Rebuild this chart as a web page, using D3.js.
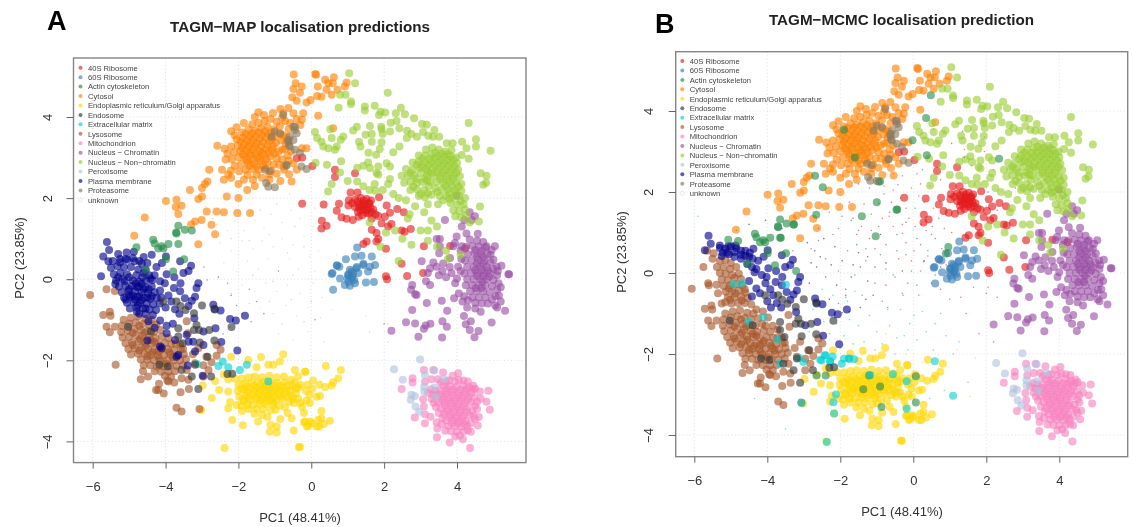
<!DOCTYPE html>
<html>
<head>
<meta charset="utf-8">
<script src="https://cdn.jsdelivr.net/npm/d3@7"></script>
<style>
  html, body { margin: 0; padding: 0; background: #fff; }
  svg { display: block; filter: blur(0.35px); font-family: "Liberation Sans", Arial, sans-serif; }
</style>
</head>
<body>
<div id="chart"></div>
<script>
// PCA positions, [PC1, PC2]
const legendNames = ["40S Ribosome", "60S Ribosome", "Actin cytoskeleton", "Cytosol", "Endoplasmic reticulum/Golgi apparatus", "Endosome", "Extracellular matrix", "Lysosome", "Mitochondrion", "Nucleus \u2212 Chromatin", "Nucleus \u2212 Non\u2212chromatin", "Peroxisome", "Plasma membrane", "Proteasome", "unknown"];
const legendColors = ["#E41A1C", "#377EB8", "#238B45", "#FF7F00", "#FFD700", "#333333", "#00CED1", "#A65628", "#F781BF", "#984EA3", "#9ACD32", "#B0C4DE", "#00008A", "#8B795E", "#E0E0E0"];
const xTicks = [-6, -4, -2, 0, 2, 4];
const yTicks = [-4, -2, 0, 2, 4];

const red40S = [[0.65,2.7],[0.65,2.52],[1.2,2.61],[-0.25,1.86],[0.34,1.84],[0.76,1.86],[0.7,1.69],[0.29,1.44],[0.42,1.32],[0.28,1.25],[0.83,1.53],[0.97,1.49],[1.14,1.46],[1.08,2.14],[1.27,2.14],[1.03,1.95],[1.02,1.82],[1.12,1.88],[1.2,1.96],[1.28,1.92],[1.36,2.0],[1.44,1.94],[1.52,1.98],[1.6,1.88],[1.2,1.78],[1.3,1.76],[1.38,1.8],[1.46,1.84],[1.54,1.78],[1.62,1.76],[1.7,1.72],[1.28,1.66],[1.36,1.7],[1.44,1.72],[1.5,1.64],[1.58,1.62],[1.66,1.66],[1.76,1.6],[1.4,1.58],[1.3,1.54],[1.66,1.5],[1.84,1.56],[1.86,2.02],[2.07,1.82],[2.36,1.73],[2.54,1.65],[2.16,1.64],[2.02,1.54],[1.93,1.38],[1.66,1.22],[1.79,1.14],[2.11,1.3],[2.2,1.36],[2.48,1.2],[2.56,1.17],[2.73,1.24],[1.84,0.99],[1.79,0.93],[1.52,0.93],[1.43,0.87],[2.05,0.75],[3.09,0.81],[3.81,0.82],[4.22,0.76],[2.48,0.38],[3.07,0.15],[2.63,0.08],[2.05,0.07],[2.08,0.0],[0.03,2.79],[-0.25,3.0],[-0.4,2.98],[1.52,1.7],[1.42,1.88],[1.58,1.86],[1.32,1.84],[1.64,1.94]];

const blue60S = [[1.26,0.78],[0.95,0.49],[1.2,0.56],[1.38,0.58],[0.71,0.34],[0.58,0.15],[1.24,0.27],[1.61,0.31],[1.75,0.35],[1.43,0.35],[1.1,0.19],[1.01,0.11],[1.66,0.56],[0.56,0.13],[0.7,0.34],[0.77,0.31],[0.79,0.02],[0.6,-0.26],[0.92,-0.14],[1.06,-0.16],[1.2,-0.1],[1.5,-0.08],[1.72,-0.07],[1.56,0.19],[1.29,0.15],[1.15,0.15],[1.06,0.23],[1.02,0.11],[1.11,0.02],[1.25,0.3],[1.43,0.38],[1.02,-0.06],[1.13,0.07],[1.18,-0.02],[1.0,0.02]];

const actin = [[-4.8,0.79],[-4.34,0.97],[-4.2,0.76],[-4.06,0.76],[-3.92,0.87],[-3.65,0.87],[-3.71,1.15],[-3.47,1.22],[-3.28,1.2],[-3.99,0.49],[-3.79,0.19],[-3.49,0.49],[-4.54,0.23],[-3.65,1.32],[-3.7,1.13],[-4.11,0.81],[-4.3,0.88]];
const actinB = [[-1.9,3.54],[-1.6,2.85],[-2.69,2.4],[-2.48,2.12],[-0.95,2.26],[-1,1.75],[-0.46,1.56],[-1.41,1.4],[-2.66,1.44],[-3.27,1.2],[-3.63,0.87],[-1.03,0.91],[0.48,4.39],[0.35,3.83],[-0.02,3.28],[0.37,2.91],[2.35,2.82],[-0.44,1.57],[0.96,0.64],[0.89,0.48],[-0.91,2.26],[-3.21,0.05],[-5.07,0.82],[-1.37,-2.87],[-0.91,-2.8],[-1.21,-2.53],[-0.87,-3.31],[0.07,-2.55],[0.07,-3.2],[-2.65,-2.53],[-2.4,-2.53]];

const cytosol = [[-2.58,3.29],[-2.8,2.7],[-2.85,2.41],[-2.92,2.35],[-3.33,2.2],[-3.0,2.25],[-3.0,2.04],[-3.1,1.98],[-3.99,1.93],[-3.7,1.96],[-3.72,1.78],[-3.56,1.81],[-3.65,1.61],[-4.57,1.52],[-4.86,1.07],[-3.19,1.42],[-3.3,1.35],[-3.01,1.46],[-3.1,0.86],[-2.64,1.11],[-2.74,1.34],[-2.87,1.67],[-2.6,1.67],[-2.4,1.65],[-2.03,1.63],[-1.68,1.63],[-2.32,2.04],[-2.0,2.0],[-1.76,2.2],[-1.55,2.3],[-2.4,2.45],[-2.45,2.7],[-2.2,2.5],[-2.0,2.35],[-1.85,2.45],[-1.6,2.45],[-1.35,2.5],[-1.15,2.45],[-0.85,2.42],[-0.95,2.6],[-0.75,2.7],
[-0.48,5.05],[0.11,5.06],[0.13,5.04],[0.62,4.98],[-0.43,4.83],[-0.26,4.75],[-0.49,4.69],[-0.31,4.6],[-0.52,4.49],[-0.4,4.4],[-0.13,4.36],[-0.02,4.42],[0.16,4.52],[0.28,4.5],[0.18,4.75],[0.38,4.92],[0.47,4.83],[0.59,4.83],[0.42,4.67],[0.56,4.55],[0.72,4.67],[0.97,4.85],[0.92,4.75],[0.19,4.03],[0.6,3.72],[-0.63,4.22],[-0.49,4.09],[-0.22,4.09],[-0.26,3.93],[-0.77,4.09],[-0.54,2.41],[-0.61,2.59],[-0.49,2.86],[-0.75,2.78],[-0.26,3.23],[-0.13,3.23],[-0.7,3.35],[-0.8,3.2],[-0.65,3.05],[-0.4,3.95],[-0.58,3.85],[-0.72,3.9],[-0.62,3.7],[-0.78,3.55],[-0.68,3.5],[-0.3,3.8],[-0.85,4.2],[-1.05,4.1],[-1.3,4.05],[-1.45,4.12],[-1.55,4.0],[-1.85,3.85],[-2.05,3.75],[-2.2,3.65],[-0.55,3.15],[-0.4,2.7],[-0.62,2.92],
[-1.62,3.82],[-1.45,3.85],[-1.28,3.9],[-1.12,3.95],[-0.95,3.88],[-0.8,3.98],[-1.9,3.62],[-1.72,3.7],[-1.55,3.66],[-1.38,3.72],[-1.2,3.76],[-1.02,3.7],[-0.86,3.78],[-2.05,3.45],[-1.88,3.48],[-1.7,3.52],[-1.53,3.5],[-1.35,3.55],[-1.18,3.58],[-1.0,3.52],[-0.85,3.58],[-2.2,3.27],[-2.02,3.3],[-1.85,3.33],[-1.68,3.36],[-1.5,3.34],[-1.33,3.38],[-1.15,3.4],[-0.97,3.36],[-2.3,3.1],[-2.12,3.13],[-1.95,3.16],[-1.78,3.18],[-1.6,3.2],[-1.42,3.17],[-1.25,3.22],[-1.08,3.2],[-0.9,3.15],[-2.18,2.96],[-2.0,3.0],[-1.83,3.02],[-1.66,3.05],[-1.48,3.02],[-1.3,3.06],[-1.12,3.03],[-0.95,2.98],[-2.1,2.8],[-1.92,2.84],[-1.74,2.88],[-1.56,2.86],[-1.38,2.9],[-1.2,2.87],[-1.03,2.83],[-1.98,2.66],[-1.8,2.7],[-1.62,2.72],[-1.44,2.7],[-1.26,2.74],[-1.1,2.68],
[-1.8,3.58],[-1.62,3.6],[-1.44,3.62],[-1.27,3.65],[-1.1,3.62],[-1.94,3.4],[-1.76,3.42],[-1.6,3.43],[-1.42,3.45],[-1.25,3.48],[-1.08,3.45],[-1.9,3.24],[-1.72,3.27],[-1.55,3.27],[-1.38,3.28],[-1.2,3.3],[-1.04,3.28],[-1.88,3.08],[-1.7,3.12],[-1.52,3.1],[-1.35,3.12],[-1.17,3.12],[-1.0,3.1],[-1.78,2.95],[-1.6,2.95],[-1.42,2.97],[-1.25,2.96],[-1.7,2.8],[-1.5,2.78],[-1.32,2.8],[-0.82,3.42],[-0.72,3.22],[-0.8,2.95],[-0.88,2.82],[-2.35,2.95],[-2.38,3.22],[-2.2,2.68],[-2.28,2.58],[-2.1,3.55],[-1.5,2.58],[-1.75,2.57],[-1.15,2.58]];

const yellow = [[-2.2,-1.91],[-1.73,-1.99],[-1.38,-1.92],[-0.77,-1.85],[-1.18,-2.11],[-1.04,-2.11],[-0.86,-2.03],[-1.5,-2.17],[-0.45,-2.24],[-0.17,-2.28],[-0.36,-2.4],[-2.98,-2.62],[-2.73,-2.93],[-2.64,-2.51],[-2.53,-2.73],[-2.28,-2.77],[-2.23,-3.03],[-2.28,-3.18],[-2.17,-3.47],[-1.88,-3.6],[-1.56,-3.32],[-1.46,-3.51],[-1.12,-3.59],[-0.95,-3.63],[-1.14,-3.76],[-0.95,-3.78],[-0.48,-3.73],[-0.54,-3.43],[-2.38,-4.16],[-0.34,-4.14],[-3.02,-3.23],[-0.17,-3.51],[-0.03,-3.51],[-0.12,-3.63],[0.15,-3.63],[0.19,-3.47],[0.4,-2.14],[0.81,-2.24],[0.6,-2.54],[0.74,-2.44],[0.56,-2.62],[-0.16,-2.28],[0.05,-2.5],[0.22,-2.6],[0.38,-2.66],[0.24,-2.88],[0.15,-2.9],[0.03,-2.7],[-0.13,-3.0],[-0.04,-3.05],[0.28,-3.25],[0.28,-3.43],[0.51,-3.49],[0.35,-3.57],[0.22,-3.63],[0.01,-3.55],[-0.08,-3.61],[-0.2,-3.53],[-0.31,-4.14],[-0.1,-2.6],[-0.05,-2.85],[-0.15,-2.75],[-0.25,-3.15],[-0.3,-2.6],[-0.2,-3.3],[-2.1,-2.45],[-2.28,-2.47],[-2.4,-2.35],[-2.05,-3.1],[-1.9,-3.25],[-1.72,-3.2],[-0.85,-3.45],[-0.65,-3.3],[-1.35,-3.35],[-1.2,-3.4],
[-1.9,-2.45],[-1.72,-2.42],[-1.55,-2.4],[-1.35,-2.42],[-1.15,-2.38],[-0.95,-2.42],[-0.75,-2.4],[-0.55,-2.48],[-2.0,-2.6],[-1.82,-2.58],[-1.65,-2.56],[-1.47,-2.55],[-1.28,-2.52],[-1.1,-2.54],[-0.92,-2.56],[-0.72,-2.55],[-0.52,-2.62],[-0.35,-2.68],[-2.02,-2.76],[-1.85,-2.72],[-1.68,-2.7],[-1.5,-2.68],[-1.32,-2.66],[-1.14,-2.68],[-0.96,-2.7],[-0.78,-2.68],[-0.58,-2.74],[-0.42,-2.82],[-1.98,-2.9],[-1.8,-2.86],[-1.62,-2.84],[-1.44,-2.8],[-1.26,-2.8],[-1.08,-2.82],[-0.9,-2.84],[-0.72,-2.82],[-0.54,-2.88],[-0.36,-2.95],[-1.85,-3.02],[-1.68,-2.98],[-1.5,-2.95],[-1.32,-2.93],[-1.14,-2.95],[-0.96,-2.98],[-0.78,-2.96],[-0.6,-3.02],[-1.6,-3.1],[-1.42,-3.07],[-1.25,-3.08],[-1.05,-3.1],[-0.88,-3.12],[-1.5,-3.2],[-1.32,-3.2],[-1.12,-3.24],[-0.98,-3.22],
[-1.58,-2.62],[-1.38,-2.6],[-1.2,-2.6],[-1.02,-2.62],[-1.56,-2.76],[-1.4,-2.74],[-1.22,-2.73],[-1.04,-2.75],[-0.86,-2.76],[-1.52,-2.9],[-1.35,-2.87],[-1.17,-2.87],[-1.0,-2.9],[-0.82,-2.9],[-1.4,-3.0],[-1.22,-3.01],[-1.05,-3.03],[-0.66,-2.62],[-0.64,-2.9],[-0.48,-3.05],[-0.3,-3.05],[-0.72,-3.15],[-1.75,-3.1],[-1.92,-3.12],[-1.75,-2.78],[-1.72,-2.92],[-0.86,-2.63],[-0.68,-2.75],[-1.78,-2.64],[-1.92,-2.7],[-1.88,-2.96],[-0.46,-2.55],[-0.42,-2.7],[-0.5,-2.95]];

const endosome = [[-3,-0.65],[-2.66,-0.73],[-3.7,-0.55],[-3.59,-0.66],[-3.45,-0.76],[-3.22,-0.84],[-3.15,-1.13],[-3.22,-1.25],[-3.08,-1.25],[-2.8,-1.25],[-3.65,-1.21],[-2.66,-1.51],[-2.19,-1.18],[-5.03,-1.17],[-4.4,-1.29],[-3.65,-1.41],[-3.53,-1.58],[-3.06,-1.56],[-2.85,-1.91],[-4.17,-2.11],[-3.94,-2.15],[-3.56,-2.24],[-3.19,-2.11],[-3.28,-2.4],[-3.1,-2.71],[-2.75,-2.4],[-2.3,-2.34],[-2.17,-2.33],[-4.06,-0.55]];

const ecm = [[-2.43,-2.03],[-2.55,-2.14],[-2.28,-2.17],[-1.96,-2.24],[-1.77,-2.11],[-3.13,-2.1],[-1.18,-2.52]];
const ecmB = [[-4.93,-0.28],[-4.7,-0.26],[-3.49,-0.29],[-4.11,-1.09],[-4.52,-1.2],[-3.72,-1.65],[-3.65,-2.24],[-3.01,-2.2],[-2.51,-2.16],[-2.4,-2.03],[-2.21,-2.06],[-2.28,-2.2],[-1.9,-2.12],[-1.75,-2.12],[-1.62,-2.13],[-2.12,-3],[-2.19,-3.19],[-3.06,-3.21],[-2.17,-3.47],[-2.37,-4.17],[-0.18,-3.35],[-0.18,-2.67],[-0.56,-2.5],[0.59,-2.18],[1.09,-3.03]];

const lysosome = [[-6.07,-0.39],[-5.62,-0.25],[-5.39,-0.29],[-5.71,-0.88],[-5.53,-0.8],[-5.51,-0.9],[-5.62,-1.17],[-5.53,-1.31],[-5.39,-1.17],[-5.37,-2.11],[-4.68,-2.47],[-4.62,-2.27],[-4.48,-2.4],[-4.18,-2.58],[-4.26,-2.73],[-4.2,-2.73],[-4.05,-2.82],[-3.76,-2.55],[-3.59,-2.79],[-3.36,-2.71],[-3.7,-3.17],[-3.56,-3.26],[-3.07,-3.2],[-3.39,-1.33],[-3.42,-1.04],[-2.6,-1.62],[-2.49,-1.74],[-2.6,-1.89],[-2.88,-1.91],[-2.74,-2.05],[-2.96,-2.12],[-2.82,-2.24],[-2.96,-2.4],[-3.19,-2.07],[-3.42,-2.24],[-3.37,-2.48],[-3.56,-2.44],[-3.95,-2.5],[-3.92,-2.52],[-3.25,-1.85],[-3.1,-1.7],
[-5.15,-1.0],[-4.95,-0.95],[-4.75,-0.92],[-4.55,-0.98],[-4.38,-1.0],[-5.2,-1.15],[-5.0,-1.1],[-4.82,-1.07],[-4.62,-1.1],[-4.44,-1.14],[-4.25,-1.12],[-5.22,-1.3],[-5.04,-1.27],[-4.86,-1.23],[-4.68,-1.25],[-4.5,-1.28],[-4.32,-1.3],[-4.14,-1.25],[-5.18,-1.44],[-5.0,-1.42],[-4.82,-1.38],[-4.64,-1.4],[-4.46,-1.43],[-4.28,-1.45],[-4.1,-1.42],[-3.92,-1.45],[-5.1,-1.58],[-4.92,-1.56],[-4.74,-1.53],[-4.56,-1.56],[-4.38,-1.58],[-4.2,-1.6],[-4.02,-1.58],[-3.84,-1.6],[-5.02,-1.72],[-4.84,-1.7],[-4.66,-1.68],[-4.48,-1.72],[-4.3,-1.74],[-4.12,-1.74],[-3.94,-1.72],[-3.76,-1.75],[-3.58,-1.72],[-4.95,-1.86],[-4.76,-1.84],[-4.58,-1.83],[-4.4,-1.87],[-4.22,-1.88],[-4.04,-1.87],[-3.86,-1.86],[-3.68,-1.88],[-3.5,-1.85],[-4.68,-1.98],[-4.5,-1.98],[-4.32,-2.0],[-4.14,-2.02],[-3.96,-2.0],[-3.78,-2.0],[-3.6,-2.0],[-3.44,-1.97],[-4.6,-2.12],[-4.42,-2.12],[-4.24,-2.15],[-4.06,-2.15],[-3.88,-2.13],[-3.7,-2.14],[-3.52,-2.12],[-4.3,-2.27],[-4.12,-2.28],[-3.92,-2.28],[-3.74,-2.27],[-4.02,-2.38],[-3.85,-2.4],
[-4.9,-1.32],[-4.7,-1.48],[-4.55,-1.65],[-4.36,-1.8],[-4.18,-1.95],[-4.0,-2.08],[-3.8,-1.92],[-4.9,-1.62],[-4.72,-1.76],[-4.5,-1.9],[-4.3,-1.55],[-4.1,-1.68],[-4.72,-1.15],[-4.58,-1.32],[-4.4,-1.5],[-4.2,-1.78],[-3.9,-1.8],[-3.72,-1.6],[-3.6,-1.6],[-3.52,-1.72]];
const lysosomeB = [[-5.3,0.3],[-5.15,0.32],[-5.0,0.25],[-5.38,0.15],[-5.2,0.15],[-5.02,0.1],[-4.85,0.15],[-5.3,0.0],[-5.14,-0.02],[-4.96,-0.05],[-4.78,-0.02],[-5.25,-0.16],[-5.08,-0.18],[-4.9,-0.12],[-4.72,-0.15],[-5.2,-0.32],[-5.02,-0.3],[-4.85,-0.28],[-4.68,-0.3],[-5.14,-0.46],[-4.96,-0.44],[-4.78,-0.43],[-4.6,-0.48],[-5.08,-0.6],[-4.9,-0.6],[-4.72,-0.58],[-4.54,-0.62],[-5.15,-0.72],[-4.98,-0.75],[-4.8,-0.74],[-4.62,-0.74],[-4.44,-0.78],[-4.3,-0.9],[-4.12,-0.95],[-3.98,-1.1],[-4.05,-1.3],[-3.85,-1.3],[-3.72,-1.4],[-5.5,0.35],[-5.65,0.55],[-5.47,0.49],[-5.75,0.15],[-5.6,-0.3],[-5.25,-0.75],[-5.35,-0.5],[-5.05,-0.38],[-4.88,-0.5],[-5.02,-0.66],[-4.7,-0.68],[-4.62,-0.4]];

const mito = [[3.09,-2.24],[2.78,-2.44],[2.78,-2.55],[2.48,-2.71],[3.3,-2.47],[3.12,-2.53],[3.07,-2.96],[3.09,-3.14],[3.12,-3.33],[3.27,-3.39],[2.84,-3.41],[3.12,-3.55],[3.44,-3.53],[3.46,-3.68],[3.45,-3.9],[3.8,-4.03],[4.16,-3.95],[4.36,-4.16],[4.86,-2.75],[4.81,-3.02],[4.9,-3.22],[4.6,-3.4],[4.57,-3.61],[4.38,-3.76],[3.35,-2.24],[3.62,-2.3],[4.03,-2.32],[3.48,-2.47],[4.45,-2.63],[4.63,-2.77],[4.65,-2.95],[3.2,-2.8],[3.3,-2.95],
[3.88,-2.38],[4.05,-2.48],[3.78,-2.5],[3.95,-2.52],[4.18,-2.5],[3.62,-2.62],[3.8,-2.64],[3.98,-2.66],[4.16,-2.62],[4.33,-2.66],[3.52,-2.74],[3.7,-2.76],[3.88,-2.78],[4.05,-2.8],[4.22,-2.76],[4.4,-2.8],[3.42,-2.88],[3.6,-2.9],[3.78,-2.92],[3.96,-2.94],[4.14,-2.92],[4.32,-2.9],[4.48,-2.92],[3.48,-3.03],[3.66,-3.04],[3.84,-3.06],[4.02,-3.08],[4.2,-3.05],[4.38,-3.04],[4.5,-3.12],[3.56,-3.18],[3.74,-3.2],[3.92,-3.2],[4.1,-3.22],[4.28,-3.2],[4.42,-3.25],[3.64,-3.33],[3.82,-3.34],[4.0,-3.36],[4.18,-3.36],[4.35,-3.36],[3.7,-3.48],[3.88,-3.48],[4.06,-3.5],[4.24,-3.5],[3.76,-3.62],[3.94,-3.62],[4.12,-3.64],[4.28,-3.62],[3.84,-3.75],[4.0,-3.76],[4.18,-3.76],[3.95,-3.88],[4.08,-3.86],
[3.72,-2.7],[3.9,-2.72],[4.1,-2.72],[4.28,-2.7],[3.54,-2.84],[3.7,-2.84],[3.88,-2.86],[4.06,-2.87],[4.24,-2.84],[3.58,-2.98],[3.76,-3.0],[3.94,-3.01],[4.12,-3.0],[4.3,-2.98],[3.66,-3.12],[3.84,-3.14],[4.02,-3.15],[4.2,-3.14],[3.72,-3.26],[3.9,-3.28],[4.08,-3.29],[4.26,-3.28],[3.8,-3.41],[3.98,-3.42],[4.15,-3.44],[3.86,-3.56],[4.03,-3.56],[4.2,-3.57],[4.44,-2.72],[4.55,-3.02],[4.46,-3.38],[3.4,-2.75],[3.36,-3.05],[3.6,-3.42],[3.7,-2.52],[3.55,-2.55],[4.3,-2.52],[4.5,-2.7],[3.28,-2.72],[3.35,-2.85],[3.42,-3.15],[3.5,-3.3],[4.55,-3.2],[4.5,-3.45],[4.38,-3.55],[3.58,-3.58],[3.68,-3.74],[4.3,-3.72]];

const chromatin = [[2.77,-0.14],[2.74,-0.26],[2.89,-0.39],[2.85,-0.37],[3.15,-0.05],[3.26,-0.14],[3.17,-0.59],[2.77,-0.76],[3.58,-0.53],[3.92,-0.47],[3.73,-0.78],[2.6,-1.06],[2.85,-1.09],[3.27,-1.1],[3.14,-1.14],[3.09,-1.22],[2.2,-1.27],[2.94,-1.42],[3.6,-1.04],[3.72,-1.17],[3.59,-1.44],[4.24,-1.11],[4.38,-1.04],[4.35,-1.25],[4.59,-1.28],[4.48,-1.43],[4.95,-1.07],[4.19,-0.91],[5.32,-0.78],[5.43,0.12],[3.67,1.46],[4.35,1.65],[4.49,1.55],[4.4,1.46],[4.2,1.46],[3.99,2.06],[4.13,1.3],[3.99,1.05],[4.57,1.12],[4.26,1.13],[3.53,0.99],[3.44,0.99],[3.53,0.81],[3.51,0.64],[3.94,0.89],[4.13,0.81],[3.9,0.81],[3.03,0.44],[3.35,0.41],[3.26,0.27],[3.44,0.31],[3.62,0.39],[3.81,0.52],[4.03,0.31],[5.04,0.81],[4.95,0.72],[4.81,0.81],[5.22,0.33],[5.41,0.12],[5.09,0.31],[3.5,0.1],[3.7,0.05],[3.85,0.15],[3.95,-0.1],[4.05,-0.35],[4.15,-0.55],[4.28,-0.7],[4.5,-0.72],[4.65,-0.8],[5.1,-0.7],[3.2,0.15],[3.6,0.2],
[4.35,0.98],[4.55,0.95],[4.72,0.92],[4.25,0.8],[4.42,0.82],[4.6,0.8],[4.78,0.78],[4.92,0.6],[4.3,0.62],[4.48,0.64],[4.66,0.62],[4.84,0.62],[5.0,0.48],[4.22,0.46],[4.4,0.46],[4.58,0.48],[4.76,0.46],[4.92,0.42],[4.28,0.3],[4.46,0.3],[4.64,0.32],[4.82,0.3],[5.0,0.25],[4.2,0.14],[4.38,0.15],[4.56,0.15],[4.74,0.16],[4.92,0.14],[5.1,0.1],[4.28,0.0],[4.46,0.0],[4.64,0.0],[4.82,0.0],[5.0,-0.02],[5.14,-0.1],[4.24,-0.15],[4.42,-0.15],[4.6,-0.14],[4.78,-0.15],[4.96,-0.17],[5.1,-0.26],[4.36,-0.3],[4.54,-0.3],[4.72,-0.3],[4.9,-0.32],[5.06,-0.42],[4.42,-0.45],[4.6,-0.45],[4.78,-0.45],[4.96,-0.5],[5.2,-0.55],[4.68,-0.6],[4.85,-0.6],[5.05,-0.65],[4.5,0.72],[4.68,0.7],[4.55,0.55],[4.72,0.54],[4.55,0.38],[4.72,0.38],[4.5,0.22],[4.68,0.22],[4.85,0.22],[4.55,0.08],[4.72,0.08],[4.88,0.06],[4.7,-0.07],[4.52,-0.22],[4.68,-0.22],[4.1,0.2],[4.12,0.5],[4.1,0.7],[4.0,0.02],[3.8,0.3],[4.2,-0.42],[5.12,0.2],[5.2,-0.2],[5.15,-0.4],[4.3,-0.52],[4.5,-0.58]];

const nonChrom = [[1.04,5.08],[1.2,4.83],[2.1,4.6],[0.79,4.55],[0.94,4.55],[1.09,4.38],[1.09,4.32],[0.75,4.23],[1.47,4.26],[1.74,4.28],[1.47,4.16],[1.9,4.13],[1.86,4.05],[2.03,4.11],[2.32,4.09],[2.46,4.23],[2.57,4.07],[2.82,3.97],[0.52,3.7],[1.25,3.76],[1.15,3.67],[1.61,3.78],[1.92,3.76],[2.18,3.86],[2.34,3.9],[2.42,3.72],[3.04,3.83],[3.17,3.81],[3.38,3.68],[4.32,3.85],[0.1,3.63],[0.16,3.48],[0.28,3.39],[0.33,3.27],[0.47,3.23],[0.56,3.48],[0.88,3.52],[0.81,3.44],[0.7,3.27],[0.65,3.19],[1.31,3.39],[1.35,3.27],[1.49,3.56],[1.66,3.58],[1.66,3.39],[1.93,3.7],[1.96,3.58],[2.16,3.64],[2.63,3.66],[2.75,3.58],[2.9,3.51],[3.07,3.63],[3.21,3.54],[3.34,3.51],[3.51,3.51],[3.72,3.35],[3.88,3.35],[4.14,3.39],[4.52,3.45],[4.52,3.27],[4.92,3.17],[4.26,3.23],[4.13,3.06],[4.32,2.97],[1.88,3.21],[1.93,3.38],[1.57,3.12],[1.78,3.07],[2.25,3.13],[2.42,3.27],[2.62,3.48],[0.82,2.91],[0.12,2.87],[0.43,2.82],[1.26,2.75],[1.43,2.8],[1.56,2.88],[1.61,2.74],[1.84,2.78],[2.07,2.86],[2.16,2.78],[0.79,2.63],[0.56,2.35],[0.46,2.16],[1.0,2.42],[1.26,2.41],[1.43,2.29],[1.74,2.35],[1.84,2.58],[1.79,2.62],[2.16,2.47],[2.11,2.35],[1.6,2.2],[1.76,2.18],[1.96,2.2],[2.25,2.1],[4.65,2.61],[4.81,2.55],[4.8,2.38],[4.72,2.33],[4.63,1.79],[4.6,1.42],[4.35,1.4],[2.4,2.0],[2.6,1.95],[2.85,1.8],[3.1,1.65],[2.7,1.6],[3.3,1.45],[3.45,1.3],[3.0,1.2],[1.6,1.4],[2.05,1.15],[2.3,1.2],[2.65,1.5],[3.2,1.2],[2.5,1.0],[1.9,0.8],[2.75,0.85],[3.45,0.8],[3.7,0.7],[2.4,0.45],[3.2,0.95],[4.1,0.6],[3.75,0.5],
[3.15,3.2],[3.32,3.25],[3.5,3.2],[3.68,3.15],[3.85,3.18],[2.95,3.05],[3.12,3.05],[3.3,3.08],[3.48,3.04],[3.65,3.02],[3.82,3.04],[3.98,3.0],[2.78,2.88],[2.95,2.9],[3.12,2.88],[3.3,2.9],[3.48,2.88],[3.65,2.86],[3.82,2.88],[4.0,2.86],[2.6,2.72],[2.78,2.7],[2.97,2.74],[3.15,2.72],[3.32,2.74],[3.5,2.72],[3.68,2.7],[3.85,2.72],[4.03,2.7],[2.48,2.55],[2.65,2.55],[2.82,2.56],[3.18,2.56],[3.36,2.56],[3.54,2.55],[3.72,2.55],[3.9,2.56],[4.08,2.54],[2.55,2.38],[2.72,2.4],[2.9,2.38],[3.05,2.4],[3.26,2.4],[3.44,2.4],[3.62,2.38],[3.8,2.4],[3.98,2.38],[4.12,2.35],[2.72,2.2],[2.9,2.22],[3.1,2.2],[3.4,2.24],[3.58,2.22],[3.76,2.22],[3.94,2.2],[4.12,2.18],[2.95,2.05],[3.12,2.02],[3.3,2.08],[3.52,2.05],[3.7,2.05],[3.88,2.02],[4.06,2.05],[4.22,2.0],[3.2,1.85],[3.48,1.85],[3.82,1.88],[4.0,1.85],[4.18,1.85],[3.9,1.7],[4.06,1.68],[4.22,1.72],[3.95,1.55],[4.12,1.52],[4.25,1.58],
[3.4,3.12],[3.58,3.1],[3.75,3.08],[3.4,2.97],[3.56,2.95],[3.74,2.94],[3.9,2.95],[3.4,2.8],[3.58,2.8],[3.76,2.79],[3.94,2.78],[3.45,2.64],[3.62,2.63],[3.8,2.63],[3.98,2.62],[3.54,2.47],[3.72,2.46],[3.9,2.47],[3.68,2.3],[3.86,2.3],[4.04,2.28],[3.78,2.12],[3.97,2.12],[2.72,2.62],[2.9,2.82],[3.05,2.97],[2.88,2.48],[3.22,2.3],[3.0,2.1],[3.2,2.65],[3.1,2.48],[3.0,2.62],[3.22,2.82],[3.25,2.97],[3.18,2.44],[3.46,2.15],[3.62,1.95],[3.8,1.98],[4.1,1.92],[3.05,2.78],[3.3,2.62],[2.8,2.28],[3.2,2.12]];

const perox = [[2.99,-1.98],[2.27,-2.22],[2.51,-2.48],[3.38,-2.25],[3.12,-2.36],[3.1,-2.65],[3.1,-2.77],[3.38,-2.67],[3.42,-2.9],[3.65,-2.47],[2.75,-2.85],[2.84,-2.88],[2.73,-2.97],[2.86,-3.14],[2.96,-3.27]];

// plasma membrane: points on the cloud's edge are in both panels, the dense block only in A
const navy = [[-5.61,0.92],[-5.55,0.72],[-5.71,0.56],[-5.3,0.62],[-5.07,0.66],[-4.87,0.68],[-4.38,0.6],[-3.99,0.56],[-3.6,0.44],[-3.3,0.33],[-3.51,0.15],[-3.37,0.2],[-3.97,0.12],[-3.76,0.05],[-4.02,-0.1],[-3.59,-0.1],[-3.1,-0.1],[-3.15,-0.22],[-3.77,-0.22],[-3.6,-0.3],[-3.47,-0.47],[-3.19,-0.43],[-3.28,-0.53],[-3.37,-0.66],[-3.62,-0.85],[-3.74,-0.74],[-3.21,-0.96],[-2.69,-0.63],[-2.49,-0.77],[-2.65,-0.75],[-2.07,-1.02],[-1.82,-0.9],[-2.23,-0.98],[-2.63,-1.21],[-2.96,-1.29],[-2.47,-1.55],[-2.03,-1.76],[-4.1,0.4],[-4.25,0.3],[-4.5,0.4],[-4.72,0.45],[-4.9,0.52],[-5.1,0.5],[-5.25,0.42],[-4.6,0.55],[-4.3,0.1],[-4.15,-0.05],[-3.92,-0.4],[-3.84,-0.55],[-4.0,-0.7]];
const navyA = [[-5.77,0.07],[-5.57,0.44],[-2.96,-1.62],[-3.19,-1.78],[-3.37,-1.54],[-3.24,-1.54],[-3.42,-1.37],[-3.7,-1.91],[-3.65,-1.87],[-3.39,-2.13],[-2.98,-2.38],[-4.15,-1.66],[-4.11,-1.7],[-4.5,-1.51],[-3.97,-1.33],[-3.74,-1.5],[-4.15,-1.02],[-4.47,-1.04],[-4.79,-0.8],[-3.97,-1.15],[-4.3,-1.2],[-3.8,-1.1],
[-5.45,0.45],[-5.25,0.5],[-5.05,0.48],[-4.85,0.44],[-4.65,0.38],[-5.5,0.28],[-5.32,0.32],[-5.14,0.3],[-4.95,0.3],[-4.75,0.24],[-4.55,0.22],[-5.42,0.12],[-5.24,0.15],[-5.06,0.12],[-4.64,0.05],[-4.45,0.1],[-5.36,-0.03],[-5.18,0.0],[-4.9,-0.03],[-4.72,-0.06],[-4.54,-0.04],[-4.36,-0.02],[-5.28,-0.18],[-5.1,-0.16],[-4.92,-0.16],[-4.74,-0.18],[-4.56,-0.2],[-4.38,-0.18],[-5.2,-0.32],[-5.02,-0.3],[-4.84,-0.3],[-4.66,-0.32],[-4.48,-0.34],[-4.3,-0.32],[-5.14,-0.45],[-4.96,-0.43],[-4.78,-0.44],[-4.6,-0.46],[-4.42,-0.48],[-4.24,-0.46],[-5.06,-0.58],[-4.88,-0.57],[-4.7,-0.58],[-4.52,-0.6],[-4.34,-0.62],[-4.16,-0.6],[-4.98,-0.72],[-4.8,-0.7],[-4.62,-0.72],[-4.44,-0.75],[-4.26,-0.76],[-4.9,-0.4],[-4.72,-0.42],[-4.84,-0.5],[-4.66,-0.52],[-5.0,-0.4],[-4.78,-0.2],[-4.6,-0.25],[-4.35,-0.88],[-4.55,-0.86],[-5.0,-0.24],[-4.82,-0.1],[-4.66,-0.12],[-5.1,-0.5],[-4.76,-0.64],[-4.5,-0.45],[-4.46,-0.25],[-5.3,0.05],[-5.12,-0.05],[-5.0,0.05],[-4.8,0.1],[-4.6,0.15],[-4.42,0.02],[-4.15,-0.28],[-4.12,-0.45],[-5.38,-0.12],[-4.38,-0.42],[-4.55,-0.72],[-4.72,-0.85]];
const navyB = [[-5.3,0.68],[-5.15,0.6],[-5.0,0.66],[-4.85,0.62],[-4.72,0.55],[-5.22,0.5],[-5.05,0.46],[-4.9,0.4],[-4.72,0.35],[-4.6,0.42],[-4.48,0.5],[-4.4,0.35],[-4.55,0.22],[-4.42,0.15],[-4.35,0.02],[-4.5,-0.2],[-4.3,-0.38],[-4.2,-0.5],[-4.42,-0.58],[-4.05,-0.25],[-3.9,-0.85]];

const proteasome = [[-0.45,3.76],[-0.77,4.05],[-1,3.64],[-1.09,3.51],[-0.86,3.6],[-0.63,3.43],[-0.49,3.43],[-0.4,3.6],[-0.61,3.31],[-0.45,3.19],[-0.68,2.82],[-1.27,2.7],[-1.14,2.66],[-1.24,2.37],[-1,2.27],[-1.18,2.28],[-0.49,3.76],[-0.59,3.52],[-0.63,3.39],[-0.45,3.68],[-0.59,3.27],[-0.31,3.11],[-0.27,2.78],[-0.13,2.72],[-0.68,2.8]];

const tinyOrangeA = [[-2.9,1.8],[-2.6,1.35],[-2.3,1.2],[-2.1,1.45],[-1.85,1.2],[-1.55,1.45],[-1.3,1.25],[-1.1,1.6],[-0.8,1.4],[-0.55,1.7],[-0.3,1.5],[-2.5,0.9],[-2.2,0.7],[-1.9,0.95],[-1.6,0.75],[-1.35,0.95],[-1.05,0.8],[-0.8,1.0],[-0.5,0.85],[-0.2,1.05],[0.05,1.3],[-2.4,0.4],[-2.05,0.2],[-1.75,0.45],[-1.45,0.25],[-1.2,0.5],[-0.9,0.3],[-0.6,0.5],[-0.35,0.25],[-0.05,0.55],[0.2,0.7],[-1.9,-0.15],[-1.55,-0.3],[-1.25,-0.1],[-0.95,-0.3],[-0.65,-0.15],[-0.3,-0.35],[0.05,-0.1],[0.3,-0.45],[-1.4,-0.7],[-1.05,-0.85],[-0.7,-0.65],[-0.4,-0.9],[-0.1,-0.7],[0.25,-0.95],[0.55,-0.75],[-0.9,-1.35],[-0.5,-1.5],[-0.1,-1.3],[0.35,-1.55],[1.5,-0.9],[-0.6,2.1],[-0.2,1.95],[0.1,1.75],[0.35,2.05],[-1.6,2.0],[0.9,2.9],[0.7,0.6],[2.1,-1.1]];
const tinyBrownA = [[-2.7,1.5],[-2.2,1.0],[-1.95,1.55],[-1.4,1.7],[-0.95,1.85],[-0.45,1.3],[-1.7,0.95],[-1.15,1.1],[-0.65,0.65],[-0.2,0.8],[-1.6,0.1],[-1.05,-0.05],[-0.5,0.1],[0.1,0.2],[-2.2,-0.35],[-1.7,-0.6],[-1.15,-0.55],[-0.55,-0.5],[0.0,-0.55],[-0.8,-1.1],[-0.2,-1.05],[1.6,-1.3],[2.1,-1.55],[2.9,-1.95]];
const tinyNavyA = [[-2.86,-0.02],[-2.95,0.3],[-2.2,-0.4],[-2.05,-0.65],[-1.7,-0.25],[-1.5,-0.55],[-1.9,-0.85],[-2.23,-1.18],[-2.42,-1.35],[-1.65,-1.05],[-2.55,0.05],[-2.3,-0.1],[-1.3,-0.85],[-0.9,0.2],[0.1,-1.0],[0.5,0.15],[2.0,-1.1]];
const tinyRedB = [[0.2,2.2],[0.45,2.15],[0.75,2.3],[0.15,1.9],[-0.05,2.1],[-0.3,2.4],[-0.55,2.05],[-0.8,2.15],[-0.6,1.75],[-0.2,1.6],[0.55,1.6],[0.05,1.15],[-0.3,1.2],[0.35,1.05],[0.6,0.85],[0.85,1.1],[1.05,1.0],[0.2,0.7],[-0.2,0.75],[-0.55,1.15],[-0.85,1.35],[-1.15,1.05],[-1.35,1.7],[-1.65,1.35],[-0.75,0.7],[-0.4,0.35],[-0.05,0.3],[0.2,0.05],[-0.15,-0.25],[-0.5,-0.1],[0.15,-0.55],[1.4,3.05],[1.6,2.65],[1.95,3.0],[2.2,2.55],[1.05,3.2],[0.55,3.55],[1.0,-0.65],[1.65,-0.35],[2.05,-0.35],[2.3,-0.6],[2.55,-1.15],[1.8,-1.5],[2.2,-1.7],[-1.2,2.1],[-1.75,1.75],[0.95,1.9],[0.9,0.2],[2.8,2.1],[2.3,1.55],[-1.55,0.95],[-1.05,0.6],[0.6,0.35],[0.5,-0.25],[-0.75,-0.3],[-0.85,-0.7],[0.1,2.45],[-0.12,1.35],[0.4,0.42],[-0.3,0.98],[-0.66,1.4],[0.52,1.15],[0.78,0.6],[-0.95,1.72],[-0.42,2.18],[0.02,0.55],[-1.42,1.15],[0.28,0.28],[-0.28,-0.55],[0.75,-0.4],[1.3,-0.6],[1.45,-1.0]];
const tinyGreenB = [[-2.3,1.5],[-2.05,1.1],[-1.7,1.3],[-1.55,0.7],[-1.8,0.55],[-1.2,0.85],[-0.95,1.15],[-0.65,1.5],[-0.35,1.85],[0.05,1.6],[-0.45,0.95],[-0.9,0.45],[-1.3,0.3],[-1.6,-0.05],[-2.05,0.05],[-2.4,0.35],[-2.6,0.8],[-0.2,0.45],[0.1,0.85],[0.4,0.55],[0.7,1.35],[0.3,1.75],[-0.55,-0.05],[-1.05,-0.25],[-1.4,-0.55],[-0.3,-0.5],[0.1,-0.3],[-2.05,-0.75],[-0.7,-0.85],[1.35,3.5],[1.95,3.35],[2.05,2.0],[-0.55,2.45],[0.25,2.55],[-1.05,2.35],[-1.85,-0.6],[0.6,-0.05],[2.0,-0.5],[-3.3,0.55],[-2.8,0.6],[-1.5,2.2],[-1.95,1.4],[-1.5,1.05],[-0.75,0.1],[-1.15,1.45],[-0.2,1.25],[0.22,1.2],[-0.8,1.95],[-2.2,0.95],[-1.3,0.6],[0.5,0.95],[-0.05,0.05],[-0.45,0.55]];
const tinyNavyB = [[-2.9,0.75],[-2.7,0.55],[-2.45,0.85],[-2.15,0.65],[-1.95,0.3],[-2.65,0.15],[-2.4,-0.1],[-2.1,-0.3],[-1.85,-0.55],[-1.7,-0.1],[-1.45,0.15],[-1.25,-0.2],[-1.05,0.15],[-1.5,0.5],[-1.85,-0.4],[-2.3,-0.65],[-1.95,-0.98],[-2.15,-1.1],[-1.75,-0.95],[-1.45,-0.85],[-3.6,1.1],[-4.5,1.2],[-4.85,1.05],[-4.05,1.3],[-0.75,0.25],[-0.9,0.95],[-0.3,0.05],[-1.3,-0.65],[-2.6,1.1],[-1.1,-0.55],[0.3,0.3],[1.4,2.85],[0.75,0.15],[-2.8,0.25],[-2.55,0.4],[-2.25,0.2],[-1.65,0.2],[-1.25,0.4],[-2.85,-0.25]];
const tinyCyanB = [[-2.5,-0.4],[-2.2,-0.55],[-2.45,-1.2],[-2.1,-1.25],[-1.75,-1.15],[-1.9,-1.55],[-1.5,-1.3],[-1.2,-1.05],[-1.35,-1.7],[-1.0,-1.45],[-0.65,-1.3],[-0.85,-1.75],[-0.45,-1.6],[-0.15,-1.9],[0.1,-1.65],[-0.1,-1.25],[0.35,-1.45],[0.25,-0.95],[0.55,-1.9],[0.6,-1.25],[0.9,-1.55],[1.1,-2.0],[1.25,-1.7],[-0.35,-0.9],[-1.8,-0.7],[-2.75,-0.9],[-2.85,-1.45],[-2.6,-1.75],[-4.35,-3.1],[-3.5,-3.85],[0.3,-3.6],[0.85,-2.9],[0.45,-3.1],[1.5,-2.7],[-5.9,1.4],[-0.5,-2.0],[-0.7,-0.9],[-1.6,-0.45],[-2.3,-1.5],[-1.65,-1.75],[-1.05,-1.9],[0.02,-1.05],[0.75,-1.0],[-2.0,-1.85],[-0.25,-1.55]];
const tinyGoldB = [[-0.75,-1.5],[-0.2,-2.0],[0.75,-2.5],[1.2,-1.9],[1.7,-2.1],[-1.35,-1.95],[1.55,-3.05],[0.25,-2.2],[-4.7,-2.15]];

const chart = d3.select("#chart").append("svg")
  .attr("width", 1132)
  .attr("height", 527);

chart.append("rect").attr("width", 1132).attr("height", 527).attr("fill", "#fff");

// one panel: box, ticks, grid, points, legend
function drawPanel(p) {
  const x = d3.scaleLinear().domain([xTicks[0], xTicks[5]]).range([p.xAt6, p.xAt6 + 10 * p.xUnit]);
  const y = d3.scaleLinear().domain([-4, 4]).range([p.yAtM4, p.yAtM4 - 8 * p.yUnit]);
  const g = chart.append("g");

  const grid = g.append("g").attr("stroke", "#dcdcdc").attr("stroke-width", 0.9).attr("stroke-dasharray", "1 2.5");
  xTicks.forEach(t => grid.append("line").attr("x1", x(t)).attr("x2", x(t)).attr("y1", p.top).attr("y2", p.bottom));
  yTicks.forEach(t => grid.append("line").attr("y1", y(t)).attr("y2", y(t)).attr("x1", p.left).attr("x2", p.right));

  // tiny points (low probability) sit under the classes
  p.tiny.forEach(t => {
    g.append("g").selectAll("circle").data(t.pts).join("circle")
      .attr("cx", d => x(d[0])).attr("cy", d => y(d[1]))
      .attr("r", t.r).attr("fill", t.color).attr("opacity", t.op);
  });

  p.layers.forEach(l => {
    g.append("g").selectAll("circle").data(l.pts).join("circle")
      .attr("cx", d => x(d[0])).attr("cy", d => y(d[1]))
      .attr("r", 4).attr("fill", l.color).attr("fill-opacity", l.op || 0.62);
  });

  g.append("rect")
    .attr("x", p.left).attr("y", p.top)
    .attr("width", p.right - p.left).attr("height", p.bottom - p.top)
    .attr("fill", "none").attr("stroke", "#858585").attr("stroke-width", 1.4);

  const xAxis = g.append("g").attr("transform", `translate(0,${p.bottom})`)
    .call(d3.axisBottom(x).tickValues(xTicks).tickSize(6).tickPadding(13));
  const yAxis = g.append("g").attr("transform", `translate(${p.left},0)`)
    .call(d3.axisLeft(y).tickValues(yTicks).tickSize(7).tickPadding(0));
  [xAxis, yAxis].forEach(a => {
    a.select(".domain").remove();
    a.selectAll("line").attr("stroke", "#666").attr("stroke-width", 1);
    a.selectAll("text").attr("font-size", 13).attr("fill", "#333").attr("font-family", "Liberation Sans");
  });
  yAxis.selectAll("text")
    .attr("x", 0).attr("dy", 0).attr("text-anchor", "middle")
    .attr("transform", `translate(${-p.yTickOff},0) rotate(-90)`);

  const legend = g.append("g");
  legendNames.forEach((name, i) => {
    const ly = p.legendY + i * 9.44;
    const dot = legend.append("circle").attr("cx", p.legendX).attr("cy", ly).attr("r", 2);
    if (i === 14) dot.attr("fill", "none").attr("stroke", legendColors[i]).attr("stroke-width", 0.7);
    else dot.attr("fill", legendColors[i]).attr("fill-opacity", 0.65);
    legend.append("text").attr("x", p.legendX + 7.5).attr("y", ly + 2.8)
      .attr("font-size", 7.6).attr("fill", "#444").text(name);
  });

  g.append("text").attr("x", p.titleX).attr("y", p.titleY).attr("text-anchor", "middle")
    .attr("font-size", 15.2).attr("font-weight", "bold").attr("fill", "#222").text(p.title);
  g.append("text").attr("x", p.letterX).attr("y", p.letterY)
    .attr("font-size", 27).attr("font-weight", "bold").attr("fill", "#000").text(p.letter);
  g.append("text").attr("x", p.xLabX).attr("y", p.xLabY).attr("text-anchor", "middle")
    .attr("font-size", 13).attr("fill", "#333").text("PC1 (48.41%)");
  g.append("text").attr("text-anchor", "middle")
    .attr("transform", `translate(${p.yLabX},${p.yLabY}) rotate(-90)`)
    .attr("font-size", 13).attr("fill", "#333").text("PC2 (23.85%)");
}

const cls = {};
legendNames.forEach((n, i) => { cls[i] = legendColors[i]; });

drawPanel({
  letter: "A", letterX: 47, letterY: 29.5,
  title: "TAGM\u2212MAP localisation predictions", titleX: 300, titleY: 32,
  left: 73.5, right: 526, top: 58, bottom: 462.6,
  xAt6: 92.7, xUnit: 36.43, yAtM4: 441.4, yUnit: 40.55, yTickOff: 22,
  legendX: 80.5, legendY: 67.7,
  xLabX: 300, xLabY: 522, yLabX: 24, yLabY: 258,
  tiny: [
    { pts: tinyOrangeA, color: "#FF7F00", r: 0.7, op: 0.3 },
    { pts: tinyBrownA, color: "#A65628", r: 0.7, op: 0.3 },
    { pts: tinyNavyA, color: "#00008A", r: 0.8, op: 0.4 }
  ],
  layers: [
    { pts: red40S, color: cls[0] }, { pts: blue60S, color: cls[1] },
    { pts: cytosol, color: cls[3] }, { pts: yellow, color: cls[4] },
    { pts: lysosome, color: cls[7] }, { pts: mito, color: cls[8] },
    { pts: chromatin, color: cls[9] }, { pts: nonChrom, color: cls[10] },
    { pts: perox, color: cls[11] }, { pts: navy, color: cls[12] },
    { pts: navyA, color: cls[12] }, { pts: actin, color: cls[2] },
    { pts: ecm, color: cls[6] }, { pts: proteasome, color: cls[13] },
    { pts: endosome, color: cls[5] }
  ]
});

drawPanel({
  letter: "B", letterX: 655, letterY: 32.5,
  title: "TAGM\u2212MCMC localisation prediction", titleX: 901.5, titleY: 25,
  left: 675.7, right: 1127.7, top: 51.7, bottom: 456.7,
  xAt6: 694.3, xUnit: 36.5, yAtM4: 435, yUnit: 40.5, yTickOff: 23,
  legendX: 682.3, legendY: 61,
  xLabX: 902, xLabY: 516, yLabX: 626, yLabY: 252,
  tiny: [
    { pts: tinyRedB, color: "#E41A1C", r: 0.8, op: 0.55 },
    { pts: tinyGreenB, color: "#238B45", r: 0.8, op: 0.6 },
    { pts: tinyNavyB, color: "#00008A", r: 0.8, op: 0.55 },
    { pts: tinyCyanB, color: "#00CED1", r: 0.8, op: 0.6 },
    { pts: tinyGoldB, color: "#FFD700", r: 0.8, op: 0.6 }
  ],
  layers: [
    { pts: red40S, color: cls[0] }, { pts: blue60S, color: cls[1] },
    { pts: cytosol, color: cls[3] }, { pts: yellow, color: cls[4] },
    { pts: lysosome, color: cls[7] }, { pts: lysosomeB, color: cls[7] },
    { pts: mito, color: cls[8] }, { pts: chromatin, color: cls[9] },
    { pts: nonChrom, color: cls[10] }, { pts: perox, color: cls[11] },
    { pts: navy, color: cls[12] }, { pts: navyB, color: cls[12] },
    { pts: actin, color: cls[2] }, { pts: actinB, color: cls[2], op: 0.6 },
    { pts: ecm, color: cls[6] }, { pts: ecmB, color: cls[6], op: 0.6 },
    { pts: proteasome, color: cls[13] }, { pts: endosome, color: cls[5] }
  ]
});
</script>
</body>
</html>
